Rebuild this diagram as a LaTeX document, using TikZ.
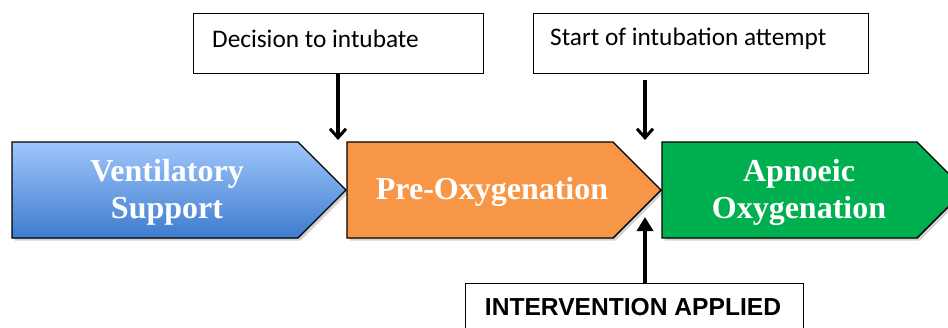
\documentclass[tikz,border=0pt]{standalone}
\usepackage{fontspec}
\setmainfont{Liberation Serif}
\newfontfamily\calfont{Carlito}
\newfontfamily\arialfont{Liberation Sans}
\usetikzlibrary{arrows.meta,shadows}
\definecolor{bluetop}{RGB}{160,198,252}
\definecolor{bluebot}{RGB}{62,124,206}
\definecolor{orangefill}{RGB}{247,150,70}
\definecolor{greenfill}{RGB}{0,176,80}
\tikzset{
  chev/.style={draw=black, line width=1.4pt, line join=miter,
    drop shadow={shadow xshift=2.5pt, shadow yshift=-2.5pt, opacity=0.35}},
  chevtext/.style={text=white, font=\bfseries\fontsize{32}{37}\selectfont, align=center},
  notebox/.style={draw=black, line width=1.2pt, fill=white, inner sep=0pt},
  notetext/.style={font=\calfont\fontsize{25.3}{28}\selectfont, anchor=west, inner sep=0pt},
  pointer/.style={line width=4pt, -{Straight Barb[length=9pt,width=16pt,line width=3pt]}},
  pointerup/.style={line width=4pt, -{Triangle[length=14pt,width=16pt]}}
}
\begin{document}
\begin{tikzpicture}[x=1pt,y=-1pt]
\clip (0,0) rectangle (948,327);
\useasboundingbox (0,0) rectangle (948,327);
\fill[white] (0,0) rectangle (948,327);
% chevrons
\path[chev, top color=bluetop, bottom color=bluebot]
  (12,142) -- (298,142) -- (346,190) -- (298,238) -- (12,238) -- cycle;
\path[chev, fill=orangefill]
  (347,142) -- (613,142) -- (661,190) -- (613,238) -- (347,238) -- cycle;
\path[chev, fill=greenfill]
  (662,142) -- (917,142) -- (965,190) -- (917,238) -- (662,238) -- cycle;
\node[chevtext] (vent) at (167,192) {Ventilatory\\Support};
\node[chevtext] (pre) at (492,192) {Pre-Oxygenation};
\node[chevtext] (apn) at (799,192) {Apnoeic\\Oxygenation};
% top boxes
\node[notebox, minimum width=290pt, minimum height=60pt, anchor=north west] (dec) at (193,13) {};
\node[notetext] (dect) at (212,39) {Decision to intubate};
\node[notebox, minimum width=335pt, minimum height=60pt, anchor=north west] (start) at (533,13) {};
\node[notetext] (startt) at (550,39) {Start of intubation attempt};
% bottom box
\node[notebox, minimum width=338pt, minimum height=60pt, anchor=north west] (int) at (465,283) {};
\node[font=\arialfont\bfseries\fontsize{24.6}{28}\selectfont, inner sep=0pt] (intt) at (633,307) {INTERVENTION APPLIED};
% arrows
\coordinate (t1) at (338,140);
\coordinate (s2) at (645,80);
\coordinate (t2) at (645,140);
\coordinate (t3) at (645,217);
\draw[pointer] (dec.south -| t1) -- (t1);
\draw[pointer] (s2) -- (t2);
\draw[pointerup] (int.north -| t3) -- (t3);
\end{tikzpicture}
\end{document}
